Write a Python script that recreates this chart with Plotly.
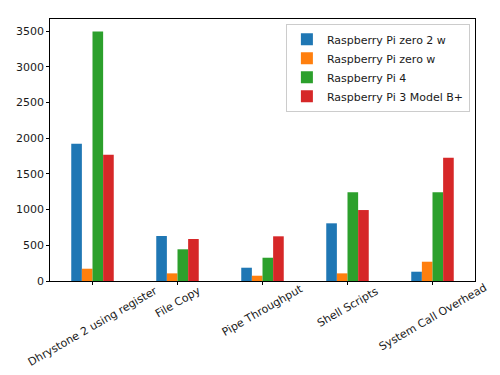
import plotly.graph_objects as go

categories = ["Dhrystone 2 using register", "File Copy", "Pipe Throughput",
              "Shell Scripts", "System Call Overhead"]
series_names = ["Raspberry Pi zero 2 w", "Raspberry Pi zero w",
                "Raspberry Pi 4", "Raspberry Pi 3 Model B+"]
zero2w = [1922, 630, 186, 808, 130]
zerow = [172, 107, 74, 107, 270]
pi4 = [3496, 444, 326, 1242, 1242]
pi3bplus = [1768, 588, 626, 994, 1726]
colors = ["#1f77b4", "#ff7f0e", "#2ca02c", "#d62728"]

FONT = "DejaVu Sans"
FS = 11
W, H = 500, 375
M = dict(l=50, r=25, t=19, b=94)
plot_h = H - M["t"] - M["b"]

fig = go.Figure()
x_idx = list(range(len(categories)))
for name, vals, c in zip(series_names, [zero2w, zerow, pi4, pi3bplus], colors):
    fig.add_trace(go.Bar(x=x_idx, y=vals, name=name, marker=dict(color=c, line=dict(width=0))))

# rotated (30 deg) category labels, centred on ticks, top of rotated box just below axis
for i, cat in enumerate(categories):
    tw = len(cat) * 5.6
    half_h = (0.5 * tw + 0.866 * FS) / 2
    center_px = 4 + half_h  # pixels below the x axis
    fig.add_annotation(x=i, y=-center_px / plot_h, xref="x", yref="paper", text=cat,
                       textangle=-30, showarrow=False, xanchor="center", yanchor="middle",
                       borderpad=0, font=dict(family=FONT, size=FS, color="#1a1a1a"))

fig.update_layout(
    width=W, height=H,
    margin=M,
    paper_bgcolor="white", plot_bgcolor="white",
    barmode="group", bargap=0.5, bargroupgap=0,
    font=dict(family=FONT, size=FS, color="#1a1a1a"),
    showlegend=True,
    legend=dict(x=0.988, xanchor="right", y=0.982, yanchor="top",
                bgcolor="rgba(255,255,255,0.8)", bordercolor="#cccccc", borderwidth=1,
                font=dict(family=FONT, size=FS), tracegroupgap=0, itemwidth=30),
)
fig.update_xaxes(range=[-0.5, 4.5], tickvals=x_idx, ticktext=[""] * len(categories),
                 showline=True, mirror=True, linecolor="black", linewidth=0.8, automargin=False,
                 ticks="outside", ticklen=3, tickcolor="black", showgrid=False, zeroline=False)
fig.update_yaxes(range=[0, 3670], tickvals=[0, 500, 1000, 1500, 2000, 2500, 3000, 3500],
                 showline=True, mirror=True, linecolor="black", linewidth=0.8, automargin=False,
                 ticks="outside", ticklen=3, tickcolor="black", showgrid=False, zeroline=False)

fig.write_html("out.html", config={"displayModeBar": False},
               post_script="document.body.style.margin='0';document.body.style.overflow='hidden';")
